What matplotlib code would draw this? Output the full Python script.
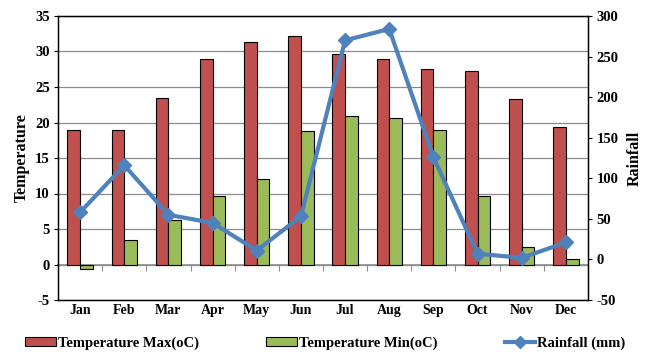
import numpy as np
import matplotlib.pyplot as plt
from matplotlib.lines import Line2D
from matplotlib.patches import Patch

# --- datos ---
meses = ["Jan", "Feb", "Mar", "Apr", "May", "Jun", "Jul", "Aug", "Sep", "Oct", "Nov", "Dec"]
temp_max = [19.0, 19.0, 23.4, 29.0, 31.3, 32.2, 29.6, 29.0, 27.6, 27.2, 23.3, 19.3]
temp_min = [-0.7, 3.5, 6.2, 9.7, 12.0, 18.8, 20.9, 20.7, 19.0, 9.6, 2.4, 0.8]
lluvia = [58, 116, 55, 45, 11, 53, 270, 284, 126, 7, 2, 21]

ROJO = "#C0504D"
VERDE = "#9BBB59"
AZUL = "#4F81BD"

plt.rcParams["font.family"] = ["Liberation Serif", "DejaVu Serif"]
plt.rcParams["font.weight"] = "bold"
plt.rcParams["axes.unicode_minus"] = False

fig = plt.figure(figsize=(6.51, 3.58), dpi=100)
ax = fig.add_axes([58 / 651, 1 - 300 / 358, 530 / 651, 284 / 358])

x = np.arange(len(meses))
ancho = 0.285
ax.bar(x - ancho / 2, temp_max, ancho, color=ROJO, edgecolor="black", linewidth=0.8, zorder=3)
ax.bar(x + ancho / 2, temp_min, ancho, color=VERDE, edgecolor="black", linewidth=0.8, zorder=3)

ax.set_xlim(-0.5, len(meses) - 0.5)
ax.set_ylim(-5, 35)
ax.set_yticks(range(-5, 36, 5))
ax.yaxis.grid(True, color="#8c8c8c", linewidth=0.9, zorder=0)
ax.set_axisbelow(True)
ax.set_xticks(x)
ax.set_xticklabels(meses, fontsize=10, fontweight="bold")
ax.tick_params(axis="x", length=0, pad=3)
ax.tick_params(axis="y", labelsize=10.5, length=3, pad=3)
ax.set_ylabel("Temperature", fontsize=11.5, fontweight="bold", labelpad=4)
for s in ax.spines.values():
    s.set_color("black")
    s.set_linewidth(1)

# eje de categorias en el cero
eje0 = ax.secondary_xaxis(5 / 40)
eje0.set_xticks(np.arange(-0.5, len(meses), 1.0))
eje0.tick_params(axis="x", direction="out", length=4, color="#8c8c8c", labelbottom=False, labeltop=False)
eje0.spines["bottom"].set_color("#8c8c8c")
eje0.spines["bottom"].set_linewidth(1.2)

# lluvia en el eje derecho
ax2 = ax.twinx()
ax2.plot(x, lluvia, color=AZUL, linewidth=3, marker="D", markersize=7, zorder=5)
ax2.set_ylim(-50, 300)
ax2.set_yticks(range(-50, 301, 50))
ax2.tick_params(axis="y", labelsize=10.5, length=3, pad=3)
ax2.set_ylabel("Rainfall", fontsize=11.5, fontweight="bold", labelpad=6)

handles = [
    Patch(facecolor=ROJO, edgecolor="black", linewidth=0.8),
    Patch(facecolor=VERDE, edgecolor="black", linewidth=0.8),
    Line2D([0], [0], color=AZUL, linewidth=3, marker="D", markersize=6),
]
etiquetas = ["Temperature Max(oC)", "Temperature Min(oC)", "Rainfall (mm)"]
fig.legend(handles, etiquetas, loc="center", bbox_to_anchor=(0.5, 1 - 343 / 358), ncol=3,
           frameon=False, handlelength=2.1, handleheight=0.6, handletextpad=0.15, columnspacing=4.6,
           prop={"weight": "bold", "size": 10.5})

plt.savefig("out.png", dpi=100)
